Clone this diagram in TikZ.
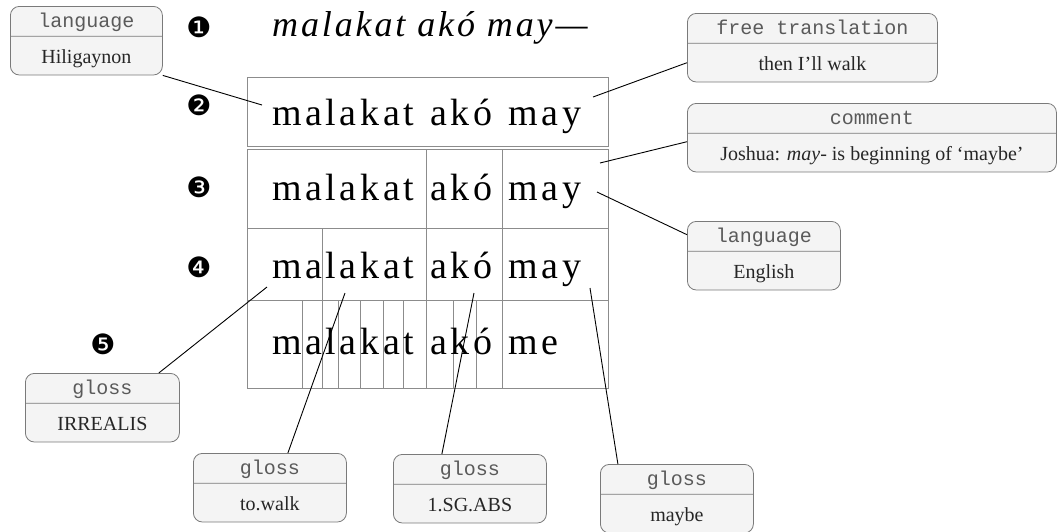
\documentclass[tikz,border=0pt]{standalone}
\usepackage{fontspec}
\setmainfont{Liberation Serif}
\setmonofont{Liberation Mono}
\newfontfamily\wordfont[LetterSpace=9.5]{Liberation Serif}
\newfontfamily\titlefont[LetterSpace=8]{Liberation Serif}
\newfontfamily\dingfont{DejaVu Sans}
\usetikzlibrary{shapes.multipart}

\definecolor{boxline}{HTML}{7A7A7A}
\definecolor{boxfill}{HTML}{F4F4F4}
\definecolor{tagtext}{HTML}{5A5A5A}
\definecolor{gridline}{HTML}{8C8C8C}

% header and body of an annotation box
\newcommand\taghead{\ttfamily\fontsize{20}{20}\selectfont\color{tagtext}\rule[-8pt]{0pt}{29pt}}
\newcommand\tagbody{\rmfamily\fontsize{20}{20}\selectfont\color{black!85}\rule[-11pt]{0pt}{38pt}}
% a slightly wider word gap in the grid rows
\newcommand\wgap{\hspace{3pt} }

\tikzset{
  tier/.style={rectangle split, rectangle split parts=2, draw=boxline, fill=boxfill,
    rounded corners=9pt, inner xsep=0pt, inner ysep=0pt, minimum width=153pt,
    anchor=north west, line width=0.8pt},
  cell/.style={draw=gridline, line width=0.9pt},
  row/.style={anchor=base west, inner sep=0pt, font=\wordfont\fontsize{38}{40}\selectfont},
  num/.style={font=\dingfont\fontsize{28}{28}\selectfont, inner sep=0pt},
  link/.style={draw, line width=0.9pt},
}

\begin{document}
\begin{tikzpicture}[x=1pt, y=-1pt]
            \useasboundingbox (0, 0) rectangle (1058, 531);

            \node[num] (b1) at (199, 27) {❶};
            \node[num] (b2) at (199, 105) {❷};
            \node[num] (b3) at (199, 187) {❸};
            \node[num] (b4) at (199, 267) {❹};
            \node[num] (b5) at (103, 344) {❺};

            \node[anchor=base west, inner sep=0pt, font=\titlefont\itshape\fontsize{36}{40}\selectfont]
                (title) at (272, 36) {malakat akó may—};

            % the grid
            \draw[cell] (247, 77) rectangle (608, 146);
            \draw[cell] (247, 149) rectangle (608, 388);
            \draw[cell] (247, 228) -- (608, 228);
            \draw[cell] (247, 300) -- (608, 300);
            \draw[cell] (426, 149) -- (426, 388);
            \draw[cell] (502, 149) -- (502, 388);
            \draw[cell] (322, 228) -- (322, 388);
            \draw[cell] (302, 300) -- (302, 388);
            \draw[cell] (338, 300) -- (338, 388);
            \draw[cell] (360, 300) -- (360, 388);
            \draw[cell] (383, 300) -- (383, 388);
            \draw[cell] (403, 300) -- (403, 388);
            \draw[cell] (453, 300) -- (453, 388);
            \draw[cell] (476, 300) -- (476, 388);

            \node[row] (row2) at (272, 125) {malakat\wgap akó\wgap may};
            \node[row] (row3) at (272, 200) {malakat\wgap akó\wgap may};
            \node[row] (row4) at (272, 278) {malakat\wgap akó\wgap may};
            \node[row] (row5) at (272, 354) {malakat\wgap akó\wgap me};

            % annotation boxes
            \node[tier, minimum width=152pt] (lang1) at (10, 6) {\taghead language \nodepart{two}\tagbody Hiligaynon};
            \node[tier, minimum width=250pt] (free) at (687, 13) {\taghead free translation \nodepart{two}\tagbody then I'll walk};
            \node[tier, minimum width=369pt] (comment) at (687, 103) {\taghead comment \nodepart{two}\tagbody Joshua: \textit{may}- is beginning of ‘maybe’};
            \node[tier] (lang2) at (687, 221) {\taghead language \nodepart{two}\tagbody English};
            \node[tier, minimum width=154pt] (irr) at (25, 373) {\taghead gloss \nodepart{two}\tagbody IRREALIS};
            \node[tier] (walk) at (193, 453) {\taghead gloss \nodepart{two}\tagbody to.walk};
            \node[tier] (sg) at (393, 454) {\taghead gloss \nodepart{two}\tagbody 1.SG.ABS};
            \node[tier] (maybe) at (600, 464) {\taghead gloss \nodepart{two}\tagbody maybe};

            % where the links touch the grid
            \coordinate (w-row2) at (262, 105);
            \coordinate (w-free) at (593, 97);
            \coordinate (w-comment) at (600, 163);
            \coordinate (w-may3) at (597, 192);
            \coordinate (w-ma) at (267, 287);
            \coordinate (w-lakat) at (345, 293);
            \coordinate (w-ako) at (474, 293);
            \coordinate (w-may4) at (590, 288);

            \draw[link] (lang1.south east) -- (w-row2);
            \draw[link] ([yshift=-15pt]free.west) -- (w-free);
            \draw[link] ([yshift=-4pt]comment.west) -- (w-comment);
            \draw[link] ([yshift=21pt]lang2.west) -- (w-may3);
            \draw[link] ([xshift=-21pt]irr.north east) -- (w-ma);
            \draw[link] ([xshift=18pt]walk.north) -- (w-lakat);
            \draw[link] ([xshift=-28pt]sg.north) -- (w-ako);
            \draw[link] ([xshift=-59pt]maybe.north) -- (w-may4);
\end{tikzpicture}
\end{document}
